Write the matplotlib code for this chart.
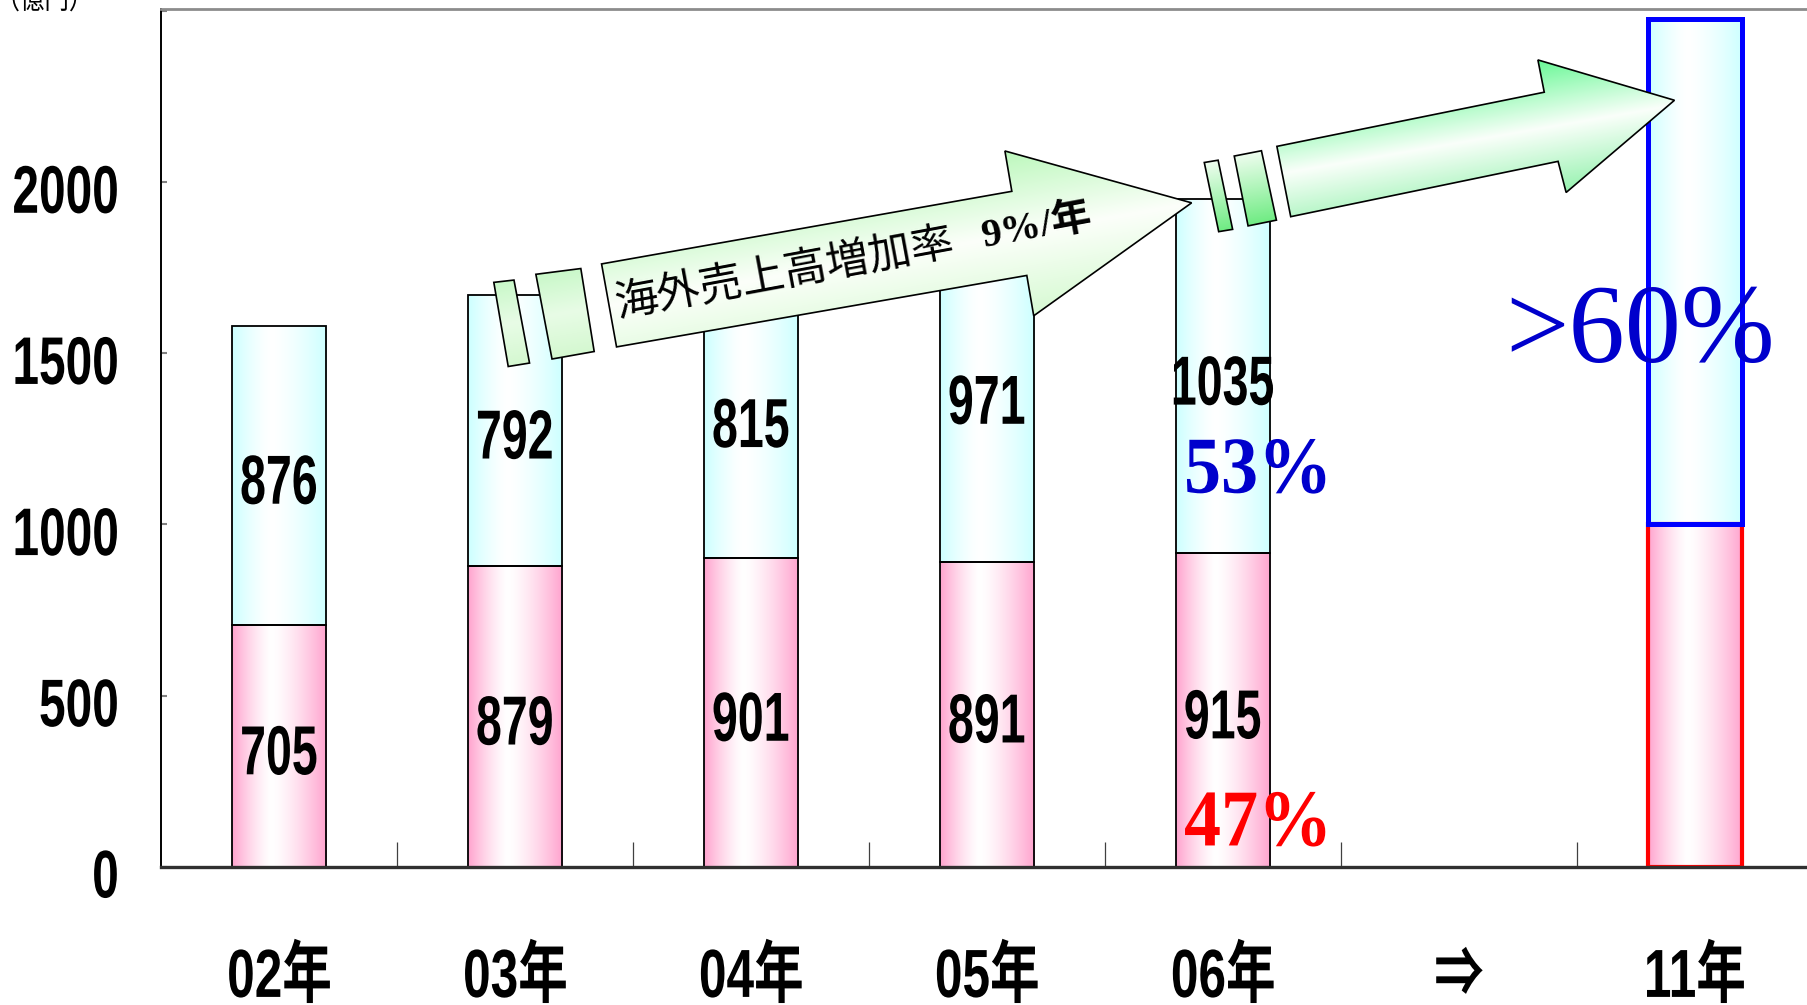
import numpy as np
import matplotlib
matplotlib.use('Agg')
import matplotlib.pyplot as plt
from matplotlib.patches import Polygon
from matplotlib.patheffects import AbstractPathEffect
from matplotlib.transforms import Affine2D, ScaledTranslation

# data (億円)
years = ['02年', '03年', '04年', '05年', '06年', '⇒', '11年']
domestic = [705, 879, 901, 891, 915, np.nan, 1000]
overseas = [876, 792, 815, 971, 1035, np.nan, 1475]
n_actual = 5  # 02..06 carry value labels
share_06 = ['47%', '53%']
target_label = '>60%'
arrow_text = '海外売上高増加率'
rate_text = '9%/年'
unit_label = '（億円）'
yticks = [0, 500, 1000, 1500, 2000]

SANS = ['Liberation Sans', 'Noto Sans CJK JP']
SERIF = ['Liberation Serif', 'Noto Sans CJK JP']
PINK = (255, 163, 206)
CYAN = (204, 255, 255)


class Stretch(AbstractPathEffect):
    """draw text scaled (condensed / tall look) around its centre or left edge"""
    def __init__(self, sx=0.7, sy=1.0, anchor='center'):
        super().__init__()
        self.sx, self.sy = sx, sy
        self.anchor = anchor

    def draw_path(self, renderer, gc, tpath, affine, rgbFace=None):
        v = tpath.vertices
        if len(v) == 0:
            return
        cx = 0.0 if self.anchor == 'left' else (v[:, 0].min() + v[:, 0].max()) / 2
        cy = (v[:, 1].min() + v[:, 1].max()) / 2
        sq = Affine2D().translate(-cx, -cy).scale(self.sx, self.sy).translate(cx, cy)
        renderer.draw_path(gc, tpath, sq + affine, rgbFace)


def hgrad(edge, n=200, c=0.42, p=1.4):
    u = np.linspace(0, 1, n)
    d = np.where(u < c, (c - u) / c, (u - c) / (1 - c))
    a = d ** p
    e = np.array(edge) / 255
    col = 1 - a[:, None] * (1 - e[None, :])
    return col[None, :, :]


def grad_poly(ax, pts, normal, stops, lw=1.2, z=5):
    pts = np.array(pts, float)
    (x0, y0), (x1, y1) = pts.min(0), pts.max(0)
    X, Y = np.meshgrid(np.linspace(x0, x1, 300), np.linspace(y0, y1, 200))
    n = np.array(normal, float)
    n = n / np.hypot(*n)
    s = X * n[0] + Y * n[1]
    sp = pts @ n
    t = (s - sp.min()) / (sp.max() - sp.min())
    pos = np.linspace(0, 1, len(stops))
    img = np.dstack([np.interp(t, pos, [c[k] / 255 for c in stops]) for k in range(3)])
    im = ax.imshow(img, extent=(x0, x1, y1, y0), origin='upper', aspect='auto',
                   interpolation='bilinear', zorder=z)
    poly = Polygon(pts, closed=True, fc='none', ec='black', lw=lw, zorder=z + 0.1)
    ax.add_patch(poly)
    im.set_clip_path(poly)


fig = plt.figure(figsize=(18.07, 10.05), dpi=100)
W, H = 1568, 872  # reference frame for the annotation layer
ax = fig.add_axes([140 / W, 1 - 752 / H, 1433 / W, 744 / H])

x = np.arange(len(years))
bw = 0.4
lo = ax.bar(x, domestic, bw, color='none', edgecolor=['black'] * 6 + ['red'],
            linewidth=[1.3] * 6 + [3.0], zorder=2)
hi = ax.bar(x, overseas, bw, bottom=domestic, color='none',
            edgecolor=['black'] * 6 + ['blue'], linewidth=[1.3] * 6 + [3.6], zorder=2.1)

for bars, col in ((lo, PINK), (hi, CYAN)):
    for p in bars.patches:
        if not (np.isfinite(p.get_height()) and np.isfinite(p.get_y())):
            continue
        x0, y0 = p.get_x(), p.get_y()
        ax.imshow(hgrad(col), extent=(x0, x0 + p.get_width(), y0, y0 + p.get_height()),
                  aspect='auto', zorder=1, interpolation='bilinear')

sq_val = [Stretch(0.67)]
for i in range(n_actual):
    ax.text(x[i], domestic[i] / 2 - 30, str(domestic[i]), ha='center', va='center',
            family=SANS, weight='bold', fontsize=50, path_effects=sq_val, zorder=3)
    ax.text(x[i], domestic[i] + overseas[i] / 2 - 30, str(overseas[i]), ha='center',
            va='center', family=SANS, weight='bold', fontsize=50, path_effects=sq_val, zorder=3)

ax.text(4.15, 1150, share_06[1], ha='center', va='center', family=SERIF, weight='bold',
        fontsize=58, color='#0000CC', path_effects=[Stretch(0.92)], zorder=4)
ax.text(4.15, 119, share_06[0], ha='center', va='center', family=SERIF, weight='bold',
        fontsize=58, color='#FF0000', path_effects=[Stretch(0.92)], zorder=4)
ax.text(5.77, 1553, target_label, ha='center', va='center', family=SERIF,
        fontsize=81, color='#0000CC', zorder=4)

ax.set_xlim(-0.5, 6.5)
ax.set_ylim(0, 2505)

# axes frame
ax.spines['right'].set_visible(False)
ax.spines['top'].set_color('#8c8c8c')
ax.spines['top'].set_linewidth(2)
ax.spines['left'].set_color('black')
ax.spines['left'].set_linewidth(1.4)
ax.spines['bottom'].set_color('#303030')
ax.spines['bottom'].set_linewidth(2.4)
ax.set_xticks(x)
ax.set_xticks(np.arange(0.5, 6, 1), minor=True)
ax.tick_params(axis='x', which='major', length=0, labelbottom=False)
ax.tick_params(axis='x', which='minor', direction='in', length=18, width=0.9, color='#404040')
ax.set_yticks(yticks + [2500])
ax.tick_params(axis='y', direction='in', length=4, width=1.5, color='#808080', labelleft=False)

# y labels: condensed, right edge at a fixed spot left of the axis
rend = fig.canvas.get_renderer()
ytr = ax.get_yaxis_transform()
sx_y = 0.71
for v in yticks:
    t = ax.text(-0.0258, v - 40, str(v), transform=ytr, ha='left', va='center', family=SANS,
                weight='bold', fontsize=48.5, path_effects=[Stretch(sx_y, 1, 'left')], clip_on=False)
    w = t.get_window_extent(rend).width
    t.set_transform(ytr + ScaledTranslation(-sx_y * w / fig.dpi, 0, fig.dpi_scale_trans))

# x labels: tall condensed glyphs (drawn from a smaller font, scaled up)
for i, lab in enumerate(years):
    ax.text(x[i], -318, lab, ha='center', va='center', family=SANS, weight='bold',
            fontsize=28, path_effects=[Stretch(0.7 * 51 / 28, 49 / 28)], clip_on=False)

fig.text(0.0257, 1.0, unit_label, ha='center', va='center', family='Noto Sans CJK JP',
         fontsize=22, path_effects=[Stretch(0.8)])

# annotation layer: growth arrows
ov = fig.add_axes([0, 0, 1, 1], zorder=5)
ov.axis('off')

arrow1 = [(522, 229), (878, 166), (872, 131), (1034, 176), (897, 274), (891, 239), (535, 301)]
strips1 = [[(428.5, 245), (446, 243), (459.5, 315), (441, 318)],
           [(465, 238), (504, 233), (515.6, 305), (479, 311.5)]]
arrow2 = [(1108, 127), (1340, 80), (1334.5, 52), (1453, 87), (1359, 167), (1352, 140), (1120, 188)]
strips2 = [[(1045, 141), (1057, 139), (1069.6, 199), (1057.5, 201)],
           [(1071, 135.4), (1094.6, 130.8), (1107.6, 191), (1083, 196)]]

n1 = (89, 506)
n2 = (60, 345)
grad_poly(ov, arrow1, n1, [(188, 248, 188), (252, 255, 250), (214, 250, 210)])
for s in strips1:
    grad_poly(ov, s, n1, [(200, 248, 200), (232, 252, 230), (212, 248, 208)])
grad_poly(ov, arrow2, n2, [(105, 248, 150), (250, 255, 250), (150, 242, 175)])
for s in strips2:
    grad_poly(ov, s, n2, [(240, 253, 240), (175, 245, 185), (110, 235, 130)])

ov.text(681, 238, arrow_text, rotation=10.5, rotation_mode='anchor', ha='center',
        va='center', family='Noto Sans CJK JP', fontsize=31, zorder=8)
ov.text(900, 197, rate_text, rotation=10.5, rotation_mode='anchor', ha='center',
        va='center', family=SERIF, weight='bold', fontsize=29, zorder=8)

ov.set_xlim(0, W)
ov.set_ylim(H, 0)

fig.savefig('out.png', dpi=100)
